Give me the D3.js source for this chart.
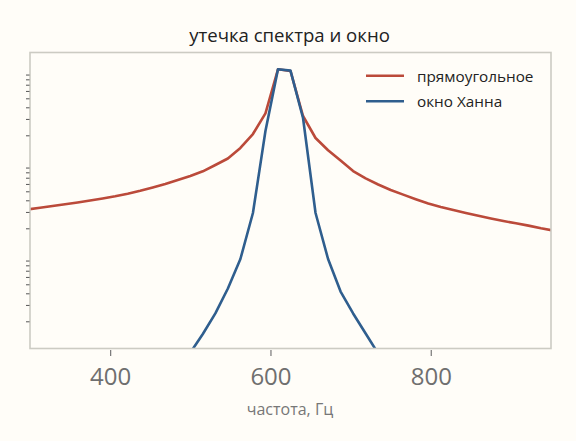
<!DOCTYPE html>
<html><head><meta charset="utf-8">
<script src="https://cdn.jsdelivr.net/npm/d3@7"></script>
<style>
html,body{margin:0;padding:0;background:#fffdf8;}
svg{display:block;}
</style></head>
<body>
<svg id="chart" width="576" height="441"></svg>
<script>
// frequency bins (Hz), 15.625 Hz spacing
const freqs = [296.875,312.5,328.125,343.75,359.375,375,390.625,406.25,421.875,437.5,453.125,468.75,484.375,500,515.625,531.25,546.875,562.5,578.125,593.75,609.375,625,640.625,656.25,671.875,687.5,703.125,718.75,734.375,750,765.625,781.25,796.875,812.5,828.125,843.75,859.375,875,890.625,906.25,921.875,937.5,953.125];
// rectangular window spectrum
const rectVals = [0.03185,0.03322,0.03474,0.03623,0.03789,0.03981,0.04183,0.04417,0.04710,0.05061,0.05492,0.05989,0.06613,0.07300,0.08203,0.09587,0.1126,0.1461,0.2065,0.3448,1.025,0.983,0.3226,0.1871,0.1380,0.1070,0.08264,0.06898,0.05916,0.05162,0.04606,0.04111,0.03695,0.03389,0.03146,0.02921,0.02725,0.02549,0.02396,0.02263,0.02138,0.02000,0.01894];
// Hann window spectrum
const hannFreqs = [500,515.625,531.25,546.875,562.5,578.125,593.75,609.375,625,640.625,656.25,671.875,687.5,703.125,718.75,734.375];
const hannVals = [0.00092,0.00146,0.00243,0.00451,0.00935,0.02921,0.2225,1.025,0.9926,0.3070,0.02921,0.00935,0.00418,0.00243,0.00148,0.00090];
const xTicks = [400,600,800];
const seriesNames = ["прямоугольное","окно Ханна"];
const colors = ["#bb4a3a","#2f5e8e"];

const svg = d3.select("#chart");
const L = 30, R = 551, T = 52.5, B = 348.5;
const x = d3.scaleLinear().domain([300, 950]).range([L, R]);
const y = d3.scaleLog().domain([1.02e-3, 1.554]).range([B, T]);

svg.append("text").attr("x", 289.5).attr("y", 41.5).attr("text-anchor","middle")
  .attr("font-family","Open Sans").attr("font-size",18.6).attr("fill","#222")
  .text("утечка спектра и окно");

svg.append("clipPath").attr("id","clip").append("rect")
  .attr("x",L).attr("y",T).attr("width",R-L).attr("height",B-T);

const line = d3.line().x(d=>x(d[0])).y(d=>y(d[1]));
const g = svg.append("g").attr("clip-path","url(#clip)");
g.append("path").datum(freqs.map((f,i)=>[f,rectVals[i]]))
  .attr("d",line).attr("fill","none").attr("stroke",colors[0]).attr("stroke-width",2.6).attr("stroke-linejoin","round");
g.append("path").datum(hannFreqs.map((f,i)=>[f,hannVals[i]]))
  .attr("d",line).attr("fill","none").attr("stroke",colors[1]).attr("stroke-width",2.6).attr("stroke-linejoin","round");

// frame
svg.append("rect").attr("x",L).attr("y",T).attr("width",R-L).attr("height",B-T)
  .attr("fill","none").attr("stroke","#cccbc3").attr("stroke-width",1.6);

// x axis
const xAxis = d3.axisBottom(x).tickValues(xTicks).tickSize(6).tickPadding(0).tickFormat(d3.format("d"));
const gx = svg.append("g").attr("transform",`translate(0,${B+1.5})`).call(xAxis);
gx.select(".domain").remove();
gx.selectAll("line").attr("stroke","#777").attr("stroke-width",1.2);
gx.selectAll("text").attr("font-family","Open Sans").attr("font-size",24).attr("fill","#6f6f6f")
  .attr("y",384.8-(B+1.5)).attr("dy",0);

svg.append("text").attr("x",290).attr("y",415).attr("text-anchor","middle")
  .attr("font-family","Open Sans").attr("font-size",16).attr("fill","#777")
  .text("частота, Гц");

// y axis: minor ticks only
const minor = [];
[1e-3,1e-2,1e-1,1].forEach(dec=>{ for(let m=2;m<=9;m++){ const v=m*dec; if(v>=y.domain()[0] && v<=y.domain()[1]) minor.push(v);} });
const yAxis = d3.axisLeft(y).tickValues(minor).tickSize(3.5).tickFormat("");
const gy = svg.append("g").attr("transform",`translate(${L-0.5},0)`).call(yAxis);
gy.select(".domain").remove();
gy.selectAll("line").attr("stroke","#555").attr("stroke-width",1);

// legend
const lg = svg.append("g");
seriesNames.forEach((n,i)=>{
  const yy = 75.7 + i*25.5;
  lg.append("line").attr("x1",366).attr("x2",404).attr("y1",yy).attr("y2",yy)
    .attr("stroke",colors[i]).attr("stroke-width",2.6);
  lg.append("text").attr("x",417).attr("y",yy+6.2).attr("font-family","Open Sans")
    .attr("font-size",15.3).attr("fill","#222").text(n);
});
</script>
</body></html>
